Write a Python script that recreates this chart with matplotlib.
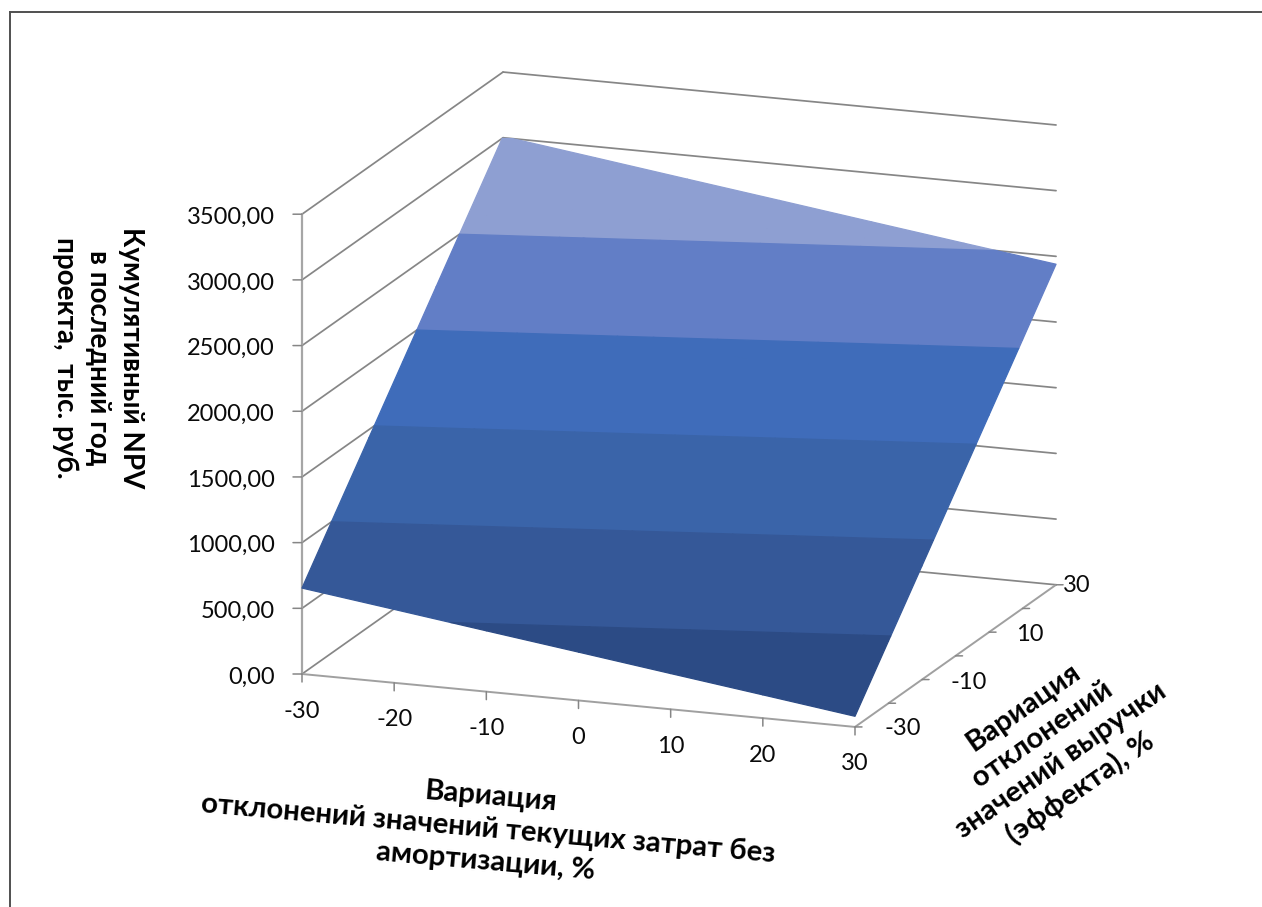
import matplotlib
matplotlib.use('Agg')
import matplotlib.pyplot as plt
import numpy as np
from matplotlib.lines import Line2D
from mpl_toolkits.mplot3d import proj3d
from mpl_toolkits.mplot3d.art3d import Poly3DCollection

plt.rcParams['font.family'] = ['Lato', 'Open Sans', 'DejaVu Sans']

W, H = 1262, 907

# Data
cost_var = [-30, -20, -10, 0, 10, 20, 30]
revenue_var = [-30, -20, -10, 0, 10, 20, 30]
npv = [
    [654, 559, 463, 368, 272, 177, 81],
    [1047, 952, 856, 761, 665, 570, 474],
    [1439, 1344, 1248, 1153, 1057, 962, 866],
    [1832, 1737, 1641, 1546, 1450, 1355, 1259],
    [2225, 2130, 2034, 1939, 1843, 1748, 1652],
    [2617, 2522, 2427, 2331, 2236, 2140, 2045],
    [3010, 2915, 2819, 2724, 2628, 2533, 2440],
]
z_ticks = [0, 500, 1000, 1500, 2000, 2500, 3000, 3500]
revenue_labels = [-30, -10, 10, 30]
band_colors = ['#2C4B85', '#355898', '#3A64A9', '#3F6CBA', '#627EC6', '#8E9FD2']

grid_col = '#868686'
text_col = '#0A0A0A'


def clip_band(pts, lo, hi):
    # Cut a polygon (list of x, y, z) down to the part with lo <= z <= hi
    for level, keep_above in ((lo, True), (hi, False)):
        out = []
        for i in range(len(pts)):
            a, b = np.array(pts[i]), np.array(pts[(i + 1) % len(pts)])
            da, db = a[2] - level, b[2] - level
            if not keep_above:
                da, db = -da, -db
            if da >= 0:
                out.append(a)
            if da * db < 0:
                out.append(a + (b - a) * da / (da - db))
        pts = out
        if not pts:
            break
    return pts


fig = plt.figure(figsize=(W / 100, H / 100), dpi=100, facecolor='white')
ax = fig.add_axes([0.05, 0.05, 0.7, 0.7 * W / H], projection='3d')
ax.set_proj_type('ortho')
ax.view_init(elev=15.08, azim=-69.8)
ax.set_box_aspect((589, 582, 476))
ax.set_autoscale_on(False)
ax.set_xlim(-30, 30, view_margin=0)
ax.set_ylim(-30, 30, view_margin=0)
ax.set_zlim(0, 3500, view_margin=0)
ax.set_axis_off()
ax.patch.set_alpha(0)
ax.computed_zorder = False


def to_screen(x, y, z):
    px, py, _ = proj3d.proj_transform(x, y, z, ax.get_proj())
    return ax.transData.transform((px, py))


# Scale and shift the axes so the floor corners land where they should
fig.canvas.draw()
width_now = to_screen(30, -30, 0) - to_screen(-30, -30, 0)
box = ax.get_position()
side = box.width * W * 553 / width_now[0]
ax.set_position([box.x0, box.y0, side / W, side / H])
fig.canvas.draw()
corner = to_screen(-30, -30, 0)
box = ax.get_position()
ax.set_position([box.x0 + (302 - corner[0]) / W, box.y0 + (H - 674 - corner[1]) / H,
                 box.width, box.height])
fig.canvas.draw()

x0, x1 = cost_var[0], cost_var[-1]
y0, y1 = revenue_var[0], revenue_var[-1]


def line3d(xs, ys, zs, **kw):
    ax.plot(xs, ys, zs, color=kw.pop('color', grid_col), lw=kw.pop('lw', 1.25),
            clip_on=False, zorder=kw.pop('zorder', 1), solid_capstyle='round', **kw)


def data_point(x, y, z):
    px, py, _ = proj3d.proj_transform(x, y, z, ax.get_proj())
    return px, py


def tick(x, y, z, dx, dy):
    ax.annotate('', xy=data_point(x, y, z), xytext=(dx, dy), textcoords='offset pixels',
                annotation_clip=False,
                arrowprops=dict(arrowstyle='-', color=grid_col, lw=1.1, shrinkA=0, shrinkB=0))


def tick_label(text, x, y, z, dx, dy, ha='center'):
    ax.annotate(text, xy=data_point(x, y, z), xytext=(dx, dy), textcoords='offset pixels',
                annotation_clip=False, ha=ha, va='center', fontsize=17, color=text_col)


# Walls: left side and back, no gridlines across the floor
for z in z_ticks:
    line3d([x0, x0], [y0, y1], [z, z])
    line3d([x0, x1], [y1, y1], [z, z])

# Surface, one flat colour per 500 band
polys, colors = [], []
for j in range(len(revenue_var) - 1):
    for i in range(len(cost_var) - 1):
        cell = [(cost_var[i], revenue_var[j], npv[j][i]),
                (cost_var[i + 1], revenue_var[j], npv[j][i + 1]),
                (cost_var[i + 1], revenue_var[j + 1], npv[j + 1][i + 1]),
                (cost_var[i], revenue_var[j + 1], npv[j + 1][i])]
        for k, col in enumerate(band_colors):
            piece = clip_band(cell, z_ticks[k], z_ticks[k + 1])
            if len(piece) >= 3:
                polys.append(piece)
                colors.append(col)
surface = Poly3DCollection(polys, facecolors=colors, edgecolors=colors, linewidths=0.9,
                           zorder=3, clip_on=False)
ax.add_collection3d(surface, autolim=False)

# Axis lines
line3d([x0, x0], [y0, y0], [0, 3500], color='#A6A6A6', lw=1.6, zorder=2)
line3d([x0, x1], [y0, y0], [0, 0], color='#A0A0A0', lw=1.4, zorder=2)
line3d([x1, x1], [y0, y1], [0, 0], color='#A0A0A0', lw=1.4, zorder=2)

# Value axis
for z in z_ticks:
    tick(x0, y0, z, -9, 0)
    tick_label(f'{z},00', x0, y0, z, -27, -3, ha='right')

# Cost axis
for v in cost_var:
    tick(v, y0, 0, 0, -8)
    tick_label(str(v), v, y0, 0, 0, -37)

# Revenue axis
for v in revenue_var:
    tick(x1, v, 0, 7, 0)
label_shift = {-30: (48, -2), -10: (47, -3), 10: (41, -2), 30: (21, -1)}
for v in revenue_labels:
    tick_label(str(v), x1, v, 0, *label_shift[v])

# Axis titles
title_kw = dict(fontweight='bold', color='black', ha='center', va='center',
                rotation_mode='anchor', multialignment='center', linespacing=1.3)
fig.text(98 / W, 1 - 358 / H, 'Кумулятивный NPV\nв последний год\nпроекта,  тыс. руб.',
         rotation=-90, fontsize=20, **title_kw)
fig.text(488 / W, 1 - 829 / H,
         'Вариация\nотклонений значений текущих затрат без\nамортизации, %',
         rotation=-5, fontsize=21.2, **title_kw)
fig.text(1052 / W, 1 - 748 / H,
         'Вариация\nотклонений\nзначений выручки\n(эффекта), %',
         rotation=35, fontsize=21.2, **title_kw)

# Chart frame runs off the right and bottom edges
frame = dict(color='#505050', lw=1.4, transform=fig.transFigure)
fig.add_artist(Line2D([10 / W, 10 / W], [0, 1 - 12 / H], **frame))
fig.add_artist(Line2D([10 / W, 1], [1 - 12 / H, 1 - 12 / H], **frame))

fig.savefig('out.png', dpi=100)
